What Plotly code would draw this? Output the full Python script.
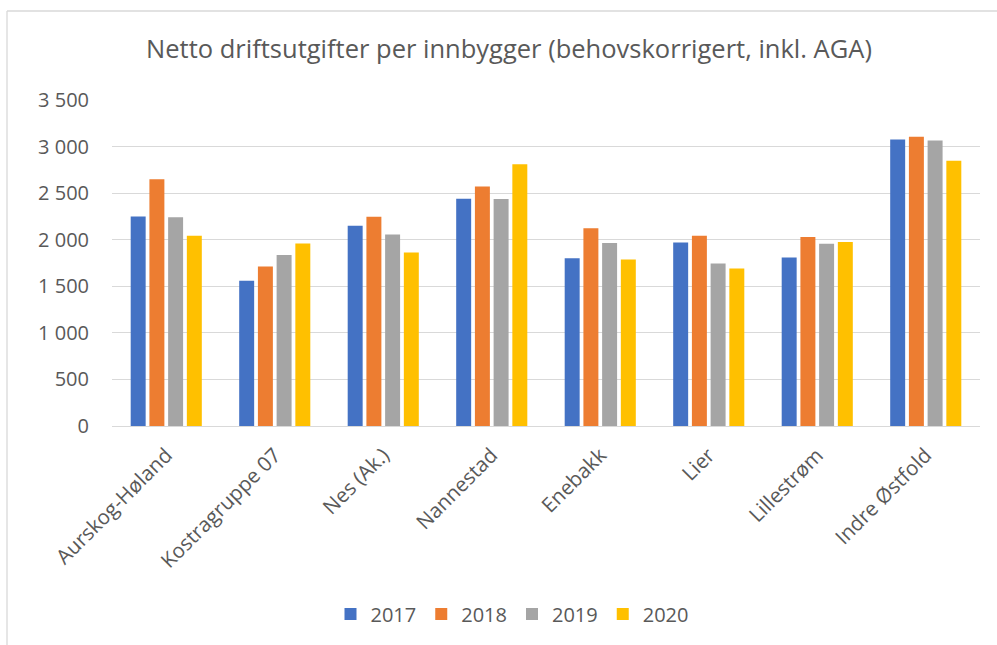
import plotly.graph_objects as go

categories = ["Aurskog-Høland", "Kostragruppe 07", "Nes (Ak.)", "Nannestad",
              "Enebakk", "Lier", "Lillestrøm", "Indre Østfold"]
years = ["2017", "2018", "2019", "2020"]
v2017 = [2250, 1560, 2150, 2440, 1800, 1970, 1810, 3077]
v2018 = [2650, 1712, 2247, 2570, 2122, 2043, 2028, 3105]
v2019 = [2240, 1835, 2057, 2438, 1964, 1745, 1957, 3066]
v2020 = [2043, 1960, 1863, 2811, 1788, 1691, 1975, 2847]
colors = ["#4472C4", "#ED7D31", "#A5A5A5", "#FFC000"]
ytickvals = [0, 500, 1000, 1500, 2000, 2500, 3000, 3500]
yticktext = ["0", "500", "1 000", "1 500", "2 000", "2 500", "3 000", "3 500"]

FONT = "Open Sans"
TXT = "#595959"

fig = go.Figure()
for name, vals, col in zip(years, [v2017, v2018, v2019, v2020], colors):
    fig.add_trace(go.Bar(x=categories, y=vals, name=name,
                         marker=dict(color=col, line=dict(width=0))))

fig.update_layout(
    width=997, height=645,
    paper_bgcolor="white", plot_bgcolor="white",
    barmode="group", bargap=0.31, bargroupgap=0.2,
    margin=dict(l=112, r=17, t=100, b=219, autoexpand=False),
    title=dict(text="Netto driftsutgifter per innbygger (behovskorrigert, inkl. AGA)",
               x=509 / 997, xanchor="center", y=1 - 49 / 645, yanchor="middle",
               yref="container",
               font=dict(family=FONT, size=25.5, color=TXT)),
    font=dict(family=FONT, color=TXT),
    legend=dict(orientation="h", x=512 / 997, xref="container", xanchor="center",
                y=(426 - 614) / 326, yanchor="middle",
                font=dict(family=FONT, size=20, color=TXT),
                itemwidth=30, traceorder="normal"),
    showlegend=True,
)
fig.update_yaxes(range=[0, 3500], tickvals=ytickvals, ticktext=yticktext,
                 showgrid=True, gridcolor="#D9D9D9", gridwidth=1.3,
                 zeroline=False, showline=False, ticks="", ticklabelstandoff=22,
                 tickfont=dict(family=FONT, size=20, color=TXT))
fig.update_xaxes(tickangle=-45, showline=True, linecolor="#D9D9D9", linewidth=1.3,
                 ticks="", ticklabelstandoff=8,
                 tickfont=dict(family=FONT, size=20.5, color=TXT))

# outer chart border (top and left visible)
fig.add_shape(type="line", xref="paper", yref="paper",
              x0=(7 - 112) / 868, x1=(1000 - 112) / 868,
              y0=(426 - 11) / 326, y1=(426 - 11) / 326,
              line=dict(color="#D9D9D9", width=1.3))
fig.add_shape(type="line", xref="paper", yref="paper",
              x0=(7 - 112) / 868, x1=(7 - 112) / 868,
              y0=(426 - 11) / 326, y1=(426 - 650) / 326,
              line=dict(color="#D9D9D9", width=1.3))

fig.write_html("out.html", config={"displayModeBar": False},
               post_script="document.body.style.margin='0';")
